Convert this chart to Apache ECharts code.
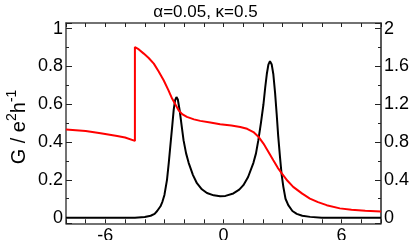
<!DOCTYPE html>
<html>
<head>
<meta charset="utf-8">
<script src="https://cdn.jsdelivr.net/npm/echarts@6/dist/echarts.min.js"></script>
<style>
html, body { margin: 0; padding: 0; background: #fff; }
#main { width: 411px; height: 240px; }
</style>
</head>
<body>
<div id="main"></div>
<script>
// black curve, left axis (G in e^2/h)
var blackX = [-8, -4.5, -4.0, -3.7, -3.5, -3.37, -3.2, -3.1, -3.0, -2.87, -2.78, -2.7, -2.6, -2.53, -2.46, -2.39, -2.32, -2.23, -2.13, -2.03, -1.9, -1.77, -1.55, -1.35, -1.1, -0.84, -0.5, -0.17, 0.1, 0.5, 0.8, 1.01, 1.25, 1.52, 1.65, 1.77, 1.9, 2.03, 2.12, 2.2, 2.28, 2.36, 2.45, 2.53, 2.62, 2.7, 2.78, 2.87, 2.95, 3.04, 3.15, 3.29, 3.5, 3.72, 4.0, 4.4, 5, 8];
var blackY = [0, 0, 0.003, 0.01, 0.02, 0.035, 0.06, 0.085, 0.12, 0.2, 0.29, 0.38, 0.49, 0.57, 0.62, 0.638, 0.625, 0.57, 0.49, 0.41, 0.34, 0.29, 0.225, 0.182, 0.15, 0.13, 0.118, 0.113, 0.115, 0.128, 0.148, 0.172, 0.215, 0.29, 0.34, 0.41, 0.5, 0.6, 0.69, 0.76, 0.81, 0.828, 0.81, 0.76, 0.66, 0.55, 0.43, 0.32, 0.23, 0.163, 0.1, 0.066, 0.035, 0.02, 0.01, 0.004, 0, 0];

// red curve, right axis
var redX = [-8, -7, -6.24, -5.4, -5.0, -4.5, -4.5, -4.3, -4.05, -3.8, -3.54, -3.3, -3.04, -2.8, -2.61, -2.45, -2.28, -2.1, -1.86, -1.5, -1.18, -0.67, -0.17, 0.4, 0.85, 1.2, 1.52, 1.8, 2.03, 2.3, 2.53, 2.75, 2.96, 3.25, 3.54, 4.0, 4.39, 4.8, 5.24, 5.91, 6.5, 7.2, 8];
var redY = [0.932, 0.916, 0.894, 0.864, 0.848, 0.812, 1.806, 1.78, 1.736, 1.69, 1.63, 1.55, 1.454, 1.35, 1.26, 1.2, 1.136, 1.096, 1.066, 1.04, 1.024, 1.006, 0.988, 0.974, 0.96, 0.94, 0.906, 0.85, 0.784, 0.69, 0.608, 0.53, 0.468, 0.39, 0.326, 0.254, 0.202, 0.164, 0.132, 0.098, 0.084, 0.074, 0.066];

var xLabels = [-6, 0, 6];
var titleText = 'α=0.05, κ=0.5';

var xMin = -8, xMax = 8;
var yLeftMin = -0.03, yLeftMax = 1.03;
var yRightMin = -0.06, yRightMax = 2.06;

function zip(xs, ys) {
    var res = [];
    for (var i = 0; i < xs.length; i++) {
        res.push([xs[i], ys[i]]);
    }
    return res;
}

var font = 'Liberation Sans, Arial, sans-serif';
var box = { left: 66, right: 30, top: 23, bottom: 16.7, outerBoundsMode: 'none', containLabel: false };
var clear = 'rgba(0,0,0,0)';

// grid 0 carries the series (hidden axes), grid 1 the same box with the visible axes
var myChart = echarts.init(document.getElementById('main'));

var option = {
    animation: false,
    title: {
        text: titleText,
        left: 'center',
        top: -1,
        textStyle: { fontFamily: font, fontSize: 17, fontWeight: 'normal', color: '#000' }
    },
    grid: [
        { left: box.left, right: box.right, top: box.top, bottom: box.bottom, outerBoundsMode: 'none', containLabel: false },
        { left: box.left, right: box.right, top: box.top, bottom: box.bottom, outerBoundsMode: 'none', containLabel: false }
    ],
    xAxis: [
        { type: 'value', gridIndex: 0, show: false, min: xMin, max: xMax },
        {
            type: 'value', gridIndex: 1, position: 'bottom', min: xMin, max: xMax, interval: 1,
            axisLine: { show: true, onZero: false, lineStyle: { color: '#444', width: 1.5 } },
            axisTick: { show: true, inside: true, length: 4, lineStyle: { color: '#222' } },
            splitLine: { show: true, lineStyle: { color: clear } },
            axisLabel: {
                margin: 4, fontFamily: font, fontSize: 18, color: '#000',
                formatter: function (v) { return xLabels.indexOf(v) >= 0 ? String(v) : ''; }
            }
        },
        {
            type: 'value', gridIndex: 1, position: 'top', min: xMin, max: xMax, interval: 1,
            axisLine: { show: true, onZero: false, lineStyle: { color: '#444', width: 1.5 } },
            axisTick: { show: true, inside: true, length: 4, lineStyle: { color: '#222' } },
            splitLine: { show: true, lineStyle: { color: clear } },
            axisLabel: { show: true, color: clear }
        }
    ],
    yAxis: [
        { type: 'value', gridIndex: 0, show: false, min: yLeftMin, max: yLeftMax },
        { type: 'value', gridIndex: 0, show: false, min: yRightMin, max: yRightMax },
        {
            type: 'value', gridIndex: 1, position: 'left', min: yLeftMin, max: yLeftMax,
            minInterval: 0.2, maxInterval: 0.2,
            axisLine: { show: true, onZero: false, lineStyle: { color: '#444', width: 1.5 } },
            axisTick: { show: true, inside: true, length: 6, lineStyle: { color: '#222' } },
            minorTick: { show: true, splitNumber: 2, length: 3, lineStyle: { color: '#222' } },
            splitLine: { show: true, lineStyle: { color: clear } },
            axisLabel: { margin: 3, fontFamily: font, fontSize: 18, color: '#000', showMinLabel: false, showMaxLabel: false }
        },
        {
            type: 'value', gridIndex: 1, position: 'right', min: yRightMin, max: yRightMax,
            minInterval: 0.4, maxInterval: 0.4,
            axisLine: { show: true, onZero: false, lineStyle: { color: '#222', width: 1.5 } },
            axisTick: { show: true, inside: true, length: 6, lineStyle: { color: '#222' } },
            minorTick: { show: true, splitNumber: 2, length: 3, lineStyle: { color: '#222' } },
            splitLine: { show: true, lineStyle: { color: clear } },
            axisLabel: { margin: 3, fontFamily: font, fontSize: 18, color: '#000', showMinLabel: false, showMaxLabel: false }
        }
    ],
    graphic: [
        {
            type: 'text',
            x: 19,
            y: 127,
            rotation: Math.PI / 2,
            style: {
                text: '{a|G / e}{s|2}{a|h}{s|-1}',
                align: 'center',
                verticalAlign: 'middle',
                rich: {
                    a: { fontFamily: font, fontSize: 20, color: '#000', lineHeight: 28 },
                    s: { fontFamily: font, fontSize: 14, color: '#000', verticalAlign: 'top', lineHeight: 14 }
                }
            }
        }
    ],
    series: [
        {
            name: 'G',
            type: 'line',
            xAxisIndex: 0,
            yAxisIndex: 0,
            data: zip(blackX, blackY),
            showSymbol: false,
            lineStyle: { color: '#000', width: 2 }
        },
        {
            name: 'red',
            type: 'line',
            xAxisIndex: 0,
            yAxisIndex: 1,
            data: zip(redX, redY),
            showSymbol: false,
            lineStyle: { color: '#ff0000', width: 2 }
        }
    ]
};

myChart.setOption(option);
</script>
</body>
</html>
